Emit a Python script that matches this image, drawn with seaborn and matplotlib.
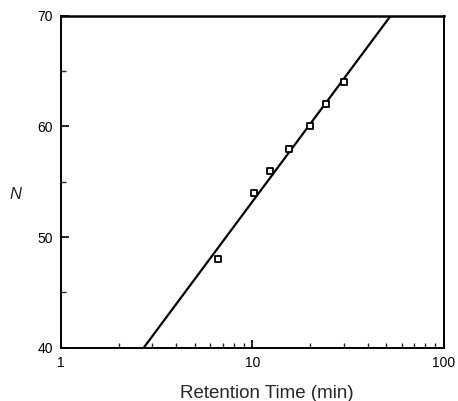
import numpy as np
import pandas as pd
import matplotlib
matplotlib.use("Agg")
import matplotlib.pyplot as plt
import matplotlib.ticker as mticker
import seaborn as sns

# Data
retention_time = [6.6, 10.2, 12.3, 15.5, 20.0, 24.2, 30.2]   # min
n_values = [48, 54, 56, 58, 60, 62, 64]
fit_intercept = 29.95
fit_slope = 23.26          # N = a + b*log10(t)
x_ticks = [1, 10, 100]
y_ticks = [40, 50, 60, 70]

sns.set_theme(style="white")
plt.rcParams['font.family'] = ['Liberation Sans', 'DejaVu Sans']

fig = plt.figure(figsize=(4.58, 4.01), dpi=100)
ax = fig.add_axes([0.1332, 0.1329, 0.8362, 0.8279])

pts = pd.DataFrame({"t": retention_time, "N": n_values})
# line endpoints from fit at the axis limits
n_ends = np.array([y_ticks[0], y_ticks[-1]], dtype=float)
t_ends = 10 ** ((n_ends - fit_intercept) / fit_slope)
line = pd.DataFrame({"t": t_ends, "N": n_ends})

sns.lineplot(data=line, x="t", y="N", ax=ax, color="black", lw=1.6)
sns.scatterplot(data=pts, x="t", y="N", ax=ax, marker="s", s=20,
                facecolor="white", edgecolor="black", linewidth=1.3, zorder=3)

ax.set_xscale("log")
ax.set_xlim(1, 100)
ax.set_ylim(40, 70)
ax.set_xticks(x_ticks)
ax.xaxis.set_major_formatter(mticker.FuncFormatter(lambda v, p: f"{v:g}"))
ax.xaxis.set_minor_locator(mticker.LogLocator(base=10, subs=np.arange(2, 10)))
ax.xaxis.set_minor_formatter(mticker.NullFormatter())
ax.set_yticks(y_ticks)
ax.yaxis.set_minor_locator(mticker.MultipleLocator(5))

ax.tick_params(axis="both", which="major", direction="in", length=6, width=1.2,
               labelsize=10, pad=6, colors="black", bottom=True, left=True,
               top=False, right=False)
ax.tick_params(axis="both", which="minor", direction="in", length=3.5, width=1.0,
               bottom=True, left=True, top=False, right=False)

for side, sp in ax.spines.items():
    sp.set_color("black")
    sp.set_linewidth(1.4)
ax.spines["top"].set_linewidth(1.8)

ax.set_xlabel("Retention Time (min)", fontsize=13.5)
ax.xaxis.set_label_coords(0.537, -0.112)
ax.set_ylabel("N", fontsize=12, style="italic", rotation=0, va="center")
ax.yaxis.set_label_coords(-0.12, 0.46)

fig.savefig("out.png", dpi=100, facecolor="white")
